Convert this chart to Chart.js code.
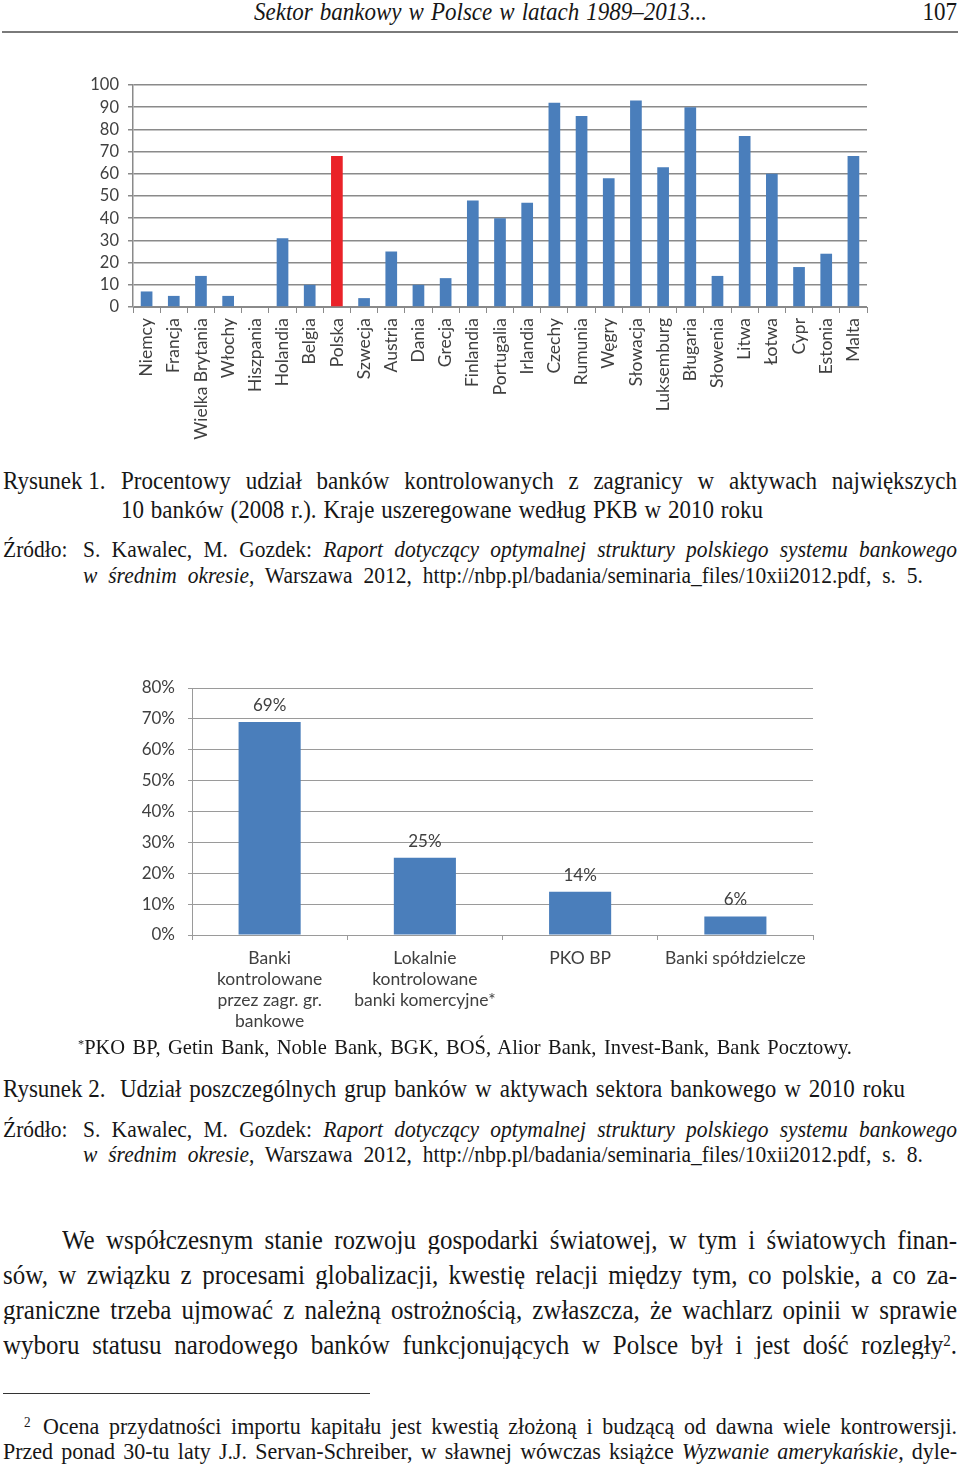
<!DOCTYPE html>
<html lang="pl">
<head>
<meta charset="utf-8">
<script src="https://cdn.jsdelivr.net/npm/chart.js@4.4.0/dist/chart.umd.min.js"></script>
<style>
  body { margin: 0; background: #fff; }
  #page { position: relative; width: 960px; height: 1467px; overflow: hidden; background: #fff; color: #161616;
          font-family: "Liberation Serif", "Times New Roman", serif; }
  .ln { position: absolute; white-space: nowrap; height: 30px; line-height: 30px; font-size: 23px;
        transform: scaleY(1.07); }
  .j { text-align: justify; text-align-last: justify; }
  .s20 { font-size: 20.5px; }
  .s21 { font-size: 21.5px; }
  .s22 { font-size: 22px; }
  .s25 { font-size: 25px; }
  .box { position: absolute; }
  sup { font-size: 60%; line-height: 0; vertical-align: 0.5em; }
</style>
</head>
<body>
<div id="page">
  <div class="ln j" style="left:254px;width:453px;top:-2px;font-style:italic;">Sektor bankowy w Polsce w latach 1989–2013...</div>
  <div class="ln" style="right:3px;top:-2px;">107</div>
  <div class="box" style="left:2px;top:31px;width:956px;height:2px;background:#7a7a7a;"></div>

  <div class="box" style="left:60px;top:70px;width:820px;height:385px;"><canvas id="foreignChart"></canvas></div>

  <div class="ln" style="left:3px;top:467px;">Rysunek 1.</div>
  <div class="ln j" style="left:121px;width:836px;top:467px;">Procentowy udział banków kontrolowanych z zagranicy w aktywach największych</div>
  <div class="ln j" style="left:121px;width:642px;top:496px;">10 banków (2008 r.). Kraje uszeregowane według PKB w 2010 roku</div>

  <div class="ln s21" style="left:3px;top:535px;">Źródło:</div>
  <div class="ln j s21" style="left:83px;width:874px;top:535px;">S. Kawalec, M. Gozdek: <i>Raport dotyczący optymalnej struktury polskiego systemu bankowego</i></div>
  <div class="ln j s21" style="left:83px;width:840px;top:561px;"><i>w średnim okresie</i>, Warszawa 2012, http://nbp.pl/badania/seminaria_files/10xii2012.pdf, s. 5.</div>

  <div class="box" style="left:120px;top:675px;width:710px;height:360px;"><canvas id="groupChart"></canvas></div>

  <div class="ln j s20" style="left:78px;width:774px;top:1032px;"><sup>*</sup>PKO BP, Getin Bank, Noble Bank, BGK, BOŚ, Alior Bank, Invest-Bank, Bank Pocztowy.</div>

  <div class="ln" style="left:3px;top:1075px;">Rysunek 2.</div>
  <div class="ln j" style="left:120px;width:785px;top:1075px;">Udział poszczególnych grup banków w aktywach sektora bankowego w 2010 roku</div>

  <div class="ln s21" style="left:3px;top:1115px;">Źródło:</div>
  <div class="ln j s21" style="left:83px;width:874px;top:1115px;">S. Kawalec, M. Gozdek: <i>Raport dotyczący optymalnej struktury polskiego systemu bankowego</i></div>
  <div class="ln j s21" style="left:83px;width:840px;top:1140px;"><i>w średnim okresie</i>, Warszawa 2012, http://nbp.pl/badania/seminaria_files/10xii2012.pdf, s. 8.</div>

  <div class="ln j s25" style="left:62px;width:895px;top:1225px;">We współczesnym stanie rozwoju gospodarki światowej, w tym i światowych finan-</div>
  <div class="ln j s25" style="left:3px;width:954px;top:1260px;">sów, w związku z procesami globalizacji, kwestię relacji między tym, co polskie, a co za-</div>
  <div class="ln j s25" style="left:3px;width:954px;top:1295px;">graniczne trzeba ujmować z należną ostrożnością, zwłaszcza, że wachlarz opinii w sprawie</div>
  <div class="ln j s25" style="left:3px;width:954px;top:1330px;">wyboru statusu narodowego banków funkcjonujących w Polsce był i jest dość rozległy<sup>2</sup>.</div>

  <div class="box" style="left:3px;top:1393px;width:367px;height:1px;background:#333;"></div>

  <div class="ln s22" style="left:24px;top:1412px;"><sup>2</sup></div>
  <div class="ln j s22" style="left:43px;width:914px;top:1412px;">Ocena przydatności importu kapitału jest kwestią złożoną i budzącą od dawna wiele kontrowersji.</div>
  <div class="ln j s22" style="left:3px;width:954px;top:1437px;">Przed ponad 30-tu laty J.J. Servan-Schreiber, w sławnej wówczas książce <i>Wyzwanie amerykańskie</i>, dyle-</div>
</div>

<script>
// Rysunek 1 - udział banków kontrolowanych z zagranicy (%)
const countries = ['Niemcy', 'Francja', 'Wielka Brytania', 'Włochy', 'Hiszpania', 'Holandia', 'Belgia',
  'Polska', 'Szwecja', 'Austria', 'Dania', 'Grecja', 'Finlandia', 'Portugalia', 'Irlandia', 'Czechy',
  'Rumunia', 'Węgry', 'Słowacja', 'Luksemburg', 'Bługaria', 'Słowenia', 'Litwa', 'Łotwa', 'Cypr',
  'Estonia', 'Malta'];
const foreignShare = [7, 5, 14, 5, 0, 31, 10, 68, 4, 25, 10, 13, 48, 40, 47, 92, 86, 58, 93, 63, 90, 14,
  77, 60, 18, 24, 68];
const highlighted = 'Polska';

// Rysunek 2 - udział grup banków w aktywach sektora (%)
const groups = [
  ['Banki', 'kontrolowane', 'przez zagr. gr.', 'bankowe'],
  ['Lokalnie', 'kontrolowane', 'banki komercyjne*'],
  'PKO BP',
  'Banki spółdzielcze'
];
const groupShare = [69, 25, 14, 6];

const blue = '#4a7ebb';
const red = '#ea2228';
const textGrey = '#404040';

new Chart(document.getElementById('foreignChart'), {
  type: 'bar',
  data: {
    labels: countries,
    datasets: [{
      data: foreignShare,
      backgroundColor: countries.map(c => c === highlighted ? red : blue),
      barPercentage: 0.43,
      categoryPercentage: 1
    }]
  },
  options: {
    responsive: true,
    maintainAspectRatio: false,
    animation: false,
    layout: { padding: { top: 15, right: 13, left: 0, bottom: 0 } },
    plugins: { legend: { display: false }, tooltip: { enabled: false } },
    scales: {
      x: {
        afterFit: s => { s.height = 148; s.paddingLeft = 0; s.paddingRight = 0; },
        grid: { drawOnChartArea: false, color: '#8a8a8a', tickLength: 6 },
        border: { color: '#8a8a8a' },
        ticks: { autoSkip: false, minRotation: 90, maxRotation: 90, padding: 5, color: textGrey,
                 font: { family: 'Lato', size: 17.5 } }
      },
      y: {
        min: 0,
        max: 100,
        afterFit: s => { s.width = 73; s.paddingTop = 0; s.paddingBottom = 0; },
        grid: { color: '#8a8a8a', lineWidth: 1.5, tickLength: 5 },
        border: { color: '#8a8a8a', width: 1.5 },
        ticks: { stepSize: 10, autoSkip: false, padding: 9, color: textGrey,
                 font: { family: 'Lato', size: 16.5 } }
      }
    }
  }
});

const valueLabels = {
  id: 'valueLabels',
  afterDatasetsDraw(chart) {
    const ctx = chart.ctx;
    ctx.save();
    ctx.font = '17px Lato';
    ctx.fillStyle = textGrey;
    ctx.textAlign = 'center';
    ctx.textBaseline = 'alphabetic';
    chart.getDatasetMeta(0).data.forEach((bar, i) => {
      ctx.fillText(groupShare[i] + '%', bar.x, bar.y - 11);
    });
    ctx.restore();
  }
};

new Chart(document.getElementById('groupChart'), {
  type: 'bar',
  data: {
    labels: groups,
    datasets: [{
      data: groupShare,
      backgroundColor: blue,
      barPercentage: 0.4,
      categoryPercentage: 1
    }]
  },
  options: {
    responsive: true,
    maintainAspectRatio: false,
    animation: false,
    layout: { padding: { top: 13, right: 17, left: 0, bottom: 0 } },
    plugins: { legend: { display: false }, tooltip: { enabled: false } },
    scales: {
      x: {
        afterFit: s => { s.height = 100; s.paddingLeft = 0; s.paddingRight = 0; },
        grid: { drawOnChartArea: false, color: '#9a9a9a', tickLength: 5 },
        border: { color: '#9a9a9a' },
        ticks: { maxRotation: 0, padding: 8, color: textGrey,
                 font: { family: 'Lato', size: 17.5, lineHeight: '21px' } }
      },
      y: {
        min: 0,
        max: 80,
        afterFit: s => { s.width = 72; s.paddingTop = 0; s.paddingBottom = 0; },
        grid: { color: '#9a9a9a', tickLength: 4 },
        border: { color: '#9a9a9a' },
        ticks: { stepSize: 10, padding: 13, color: textGrey, font: { family: 'Lato', size: 17 },
                 callback: v => v + '%' }
      }
    }
  },
  plugins: [valueLabels]
});
</script>
</body>
</html>
